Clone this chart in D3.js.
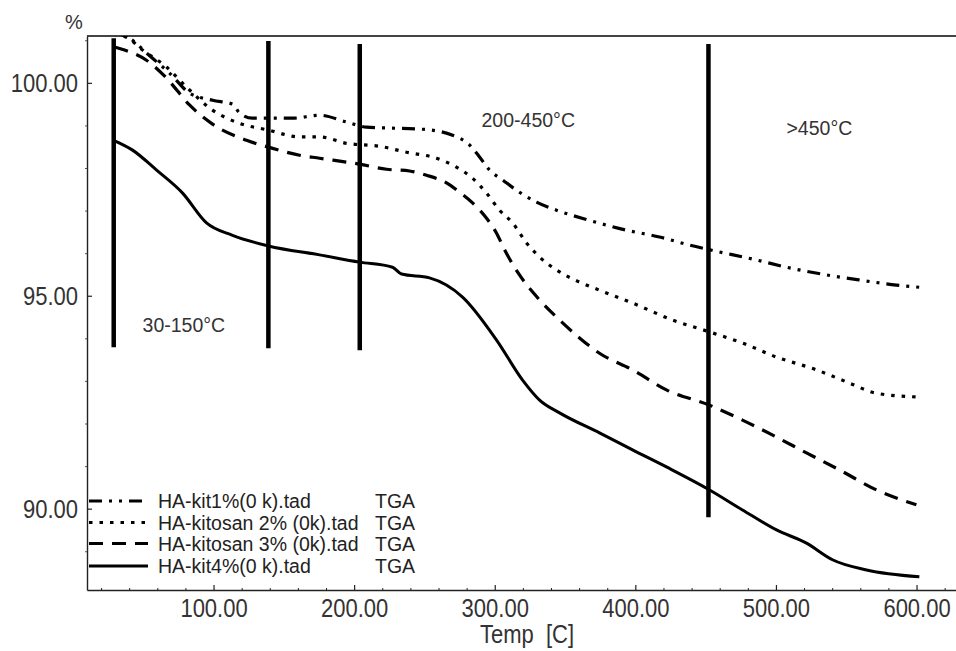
<!DOCTYPE html>
<html>
<head>
<meta charset="utf-8">
<script src="https://cdn.jsdelivr.net/npm/d3@7"></script>
<style>
  html, body { margin: 0; padding: 0; background: #fff; }
  svg { display: block; }
</style>
</head>
<body>
<svg id="chart" width="956" height="651"></svg>
<script>
// ---------------- DATA ----------------
const seriesNames = [
  "HA-kit1%(0 k).tad",
  "HA-kitosan 2% (0k).tad",
  "HA-kitosan 3% (0k).tad",
  "HA-kit4%(0 k).tad"
];
const seriesTag = ["TGA", "TGA", "TGA", "TGA"];

// [temperature °C, mass %]
const kit1 = [
  [28.9,101.19],[42.4,101.00],[52.3,100.70],[68.7,100.23],[82.9,99.76],[99.3,99.59],
  [113.5,99.50],[118.5,99.29],[127.7,99.17],[139.1,99.17],[156.2,99.17],[175.4,99.24],
  [194.6,99.08],[208.8,98.96],[223.1,98.94],[248.6,98.91],[270.0,98.77],[282.1,98.54],
  [289.2,98.26],[296.3,97.95],[305.6,97.72],[317.6,97.43],[329.7,97.20],[343.9,97.01],
  [367.4,96.77],[393.7,96.54],[417.2,96.38],[438.5,96.19],[452.8,96.08],[486.2,95.84],
  [507.5,95.67],[535.9,95.49],[559.4,95.37],[585.7,95.25],[602.0,95.20]
];
const kitosan2 = [
  [28.9,101.14],[38.1,101.07],[49.5,100.77],[66.6,100.37],[80.8,99.90],[99.3,99.36],
  [118.5,99.05],[139.1,98.89],[161.2,98.73],[175.4,98.73],[194.6,98.58],[218.1,98.51],
  [237.3,98.37],[258.6,98.23],[272.8,98.02],[284.2,97.76],[294.2,97.41],[303.4,97.01],
  [312.7,96.71],[322.6,96.24],[331.9,95.91],[346.1,95.56],[360.3,95.32],[374.5,95.13],
  [398.0,94.83],[426.5,94.43],[452.8,94.15],[476.2,93.89],[500.4,93.56],[528.8,93.26],
  [552.3,92.95],[571.5,92.71],[602.0,92.62]
];
const kitosan3 = [
  [29.6,100.84],[36.7,100.77],[52.3,100.53],[66.6,100.11],[82.9,99.48],[99.3,99.03],
  [123.5,98.65],[139.1,98.49],[161.2,98.30],[175.4,98.23],[203.8,98.09],[223.1,97.97],
  [239.4,97.93],[251.5,97.83],[265.7,97.65],[275.0,97.43],[284.2,97.18],[294.2,96.82],
  [301.3,96.47],[307.0,96.08],[317.6,95.49],[331.9,94.90],[346.1,94.43],[360.3,94.01],
  [374.5,93.65],[398.0,93.26],[422.1,92.79],[452.8,92.43],[476.2,92.08],[500.4,91.68],
  [521.7,91.31],[545.2,90.91],[571.5,90.44],[599.9,90.09]
];
const kit4 = [
  [28.9,98.65],[42.4,98.42],[59.5,97.95],[78.0,97.41],[95.0,96.71],[113.5,96.42],
  [139.1,96.17],[175.4,95.96],[203.8,95.79],[227.3,95.67],[233.7,95.51],[253.6,95.42],
  [277.1,94.97],[301.3,93.96],[319.8,93.02],[331.9,92.55],[346.1,92.25],[374.5,91.78],
  [398.0,91.38],[422.1,90.98],[452.8,90.44],[476.2,89.97],[500.4,89.50],[521.7,89.19],
  [540.2,88.80],[564.4,88.56],[602.0,88.40]
];
const seriesData = [kit1, kitosan2, kitosan3, kit4];

// region divider lines: temperature, top %, bottom %
const dividerTemps = [29, 139, 204, 452];
const dividerTops = [101.05, 100.98, 100.91, 100.91];
const dividerBottoms = [93.79, 93.77, 93.72, 89.80];

// region labels: text, temperature, mass (baseline)
const regionText = ["30-150°C", "200-450°C", ">450°C"];
const regionT = [49.5, 290.6, 507.5];
const regionW = [94.15, 98.96, 98.77];

// axis ticks
const xMajorTicks = [100, 200, 300, 400, 500, 600];
const xMinorTicks = d3.range(20, 640, 20).filter(v => v % 100 !== 0);
const yMajorTicks = [90, 95, 100];
const yMinorTicks = [89, 91, 92, 93, 94, 96, 97, 98, 99, 101];

// ---------------- LAYOUT ----------------
const svg = d3.select("#chart");
const mLeft = 87, mTop = 36, mBottom = 590;
const xDomain = [10, 630];
const yDomain = [88.09, 101.10];
const x = d3.scaleLinear().domain(xDomain).range([mLeft, mLeft + (xDomain[1] - xDomain[0]) * 1.406]);
const y = d3.scaleLinear().domain(yDomain).range([mBottom, mTop]);

const textColor = "#333";
const axisFont = "'Liberation Sans', Arial, sans-serif";
const styles = [
  { dash: "13,7,3,7,3,7", width: 3.2 },
  { dash: "3.5,7", width: 3.2 },
  { dash: "14,9", width: 3.2 },
  { dash: null, width: 3 }
];

svg.append("defs").append("clipPath").attr("id", "plotClip")
  .append("rect").attr("x", mLeft).attr("y", mTop).attr("width", 956 - mLeft).attr("height", mBottom - mTop);

// top border
svg.append("line")
  .attr("x1", mLeft).attr("x2", 956).attr("y1", y(yDomain[1])).attr("y2", y(yDomain[1]))
  .attr("stroke", "#444").attr("stroke-width", 2);

// X axis
const gx = svg.append("g").attr("transform", `translate(0,${mBottom})`);
gx.call(d3.axisBottom(x).tickValues(xMinorTicks).tickSize(-2).tickSizeOuter(0).tickFormat(""));
gx.selectAll("line").attr("stroke", "#222");
gx.select(".domain").attr("stroke", "#222").attr("stroke-width", 1.6);
const gxM = svg.append("g").attr("transform", `translate(0,${mBottom})`);
gxM.call(d3.axisBottom(x).tickValues(xMajorTicks).tickSize(-5).tickSizeOuter(0).tickPadding(14)
  .tickFormat(d3.format(".2f")));
gxM.select(".domain").remove();
gxM.selectAll("line").attr("stroke", "#222").attr("stroke-width", 1.2);
gxM.selectAll("text")
  .attr("y", 27).attr("dy", 0)
  .attr("transform", "scale(0.88,1)")
  .style("font-family", axisFont).style("font-size", "25px").attr("fill", textColor);

// Y axis
const gy = svg.append("g").attr("transform", `translate(${mLeft},0)`);
gy.call(d3.axisLeft(y).tickValues(yMinorTicks).tickSize(2).tickSizeOuter(0).tickFormat(""));
gy.selectAll("line").attr("stroke", "#555");
gy.select(".domain").attr("stroke", "#222").attr("stroke-width", 1.4);
const gyM = svg.append("g").attr("transform", `translate(${mLeft},0)`);
gyM.call(d3.axisLeft(y).tickValues(yMajorTicks).tickSize(-5).tickSizeOuter(0).tickPadding(9)
  .tickFormat(d3.format(".2f")));
gyM.select(".domain").remove();
gyM.selectAll("line").attr("stroke", "#222").attr("stroke-width", 1.2);
gyM.selectAll("text")
  .attr("x", -9 / 0.88).attr("dy", "0.36em")
  .attr("transform", "scale(0.88,1)")
  .style("font-family", axisFont).style("font-size", "25px").attr("fill", textColor);

// axis titles
svg.append("text").attr("x", 65).attr("y", 29).text("%")
  .style("font-family", axisFont).style("font-size", "20px").attr("fill", textColor);
svg.append("text")
  .attr("transform", `translate(${527},643) scale(0.88,1)`)
  .attr("text-anchor", "middle")
  .style("font-family", axisFont).style("font-size", "25px").attr("fill", textColor)
  .style("white-space", "pre").text("Temp  [C]");

// curves
const line = d3.line().curve(d3.curveMonotoneX).x(d => x(d[0])).y(d => y(d[1]));
const plot = svg.append("g").attr("clip-path", "url(#plotClip)");
seriesData.forEach((data, i) => {
  plot.append("path").datum(data)
    .attr("d", line)
    .attr("fill", "none")
    .attr("stroke", "#000")
    .attr("stroke-width", styles[i].width)
    .attr("stroke-dasharray", styles[i].dash)
    .attr("stroke-linejoin", "round");
});

// divider lines
dividerTemps.forEach((t, i) => {
  svg.append("line")
    .attr("x1", x(t)).attr("x2", x(t))
    .attr("y1", y(dividerTops[i])).attr("y2", y(dividerBottoms[i]))
    .attr("stroke", "#000").attr("stroke-width", 4.5);
});

// region labels
regionText.forEach((t, i) => {
  svg.append("text").attr("x", x(regionT[i])).attr("y", y(regionW[i])).text(t)
    .style("font-family", axisFont).style("font-size", "19.5px").attr("fill", textColor);
});

// legend
const legendRowY = [501, 522.5, 543.5, 566];
seriesNames.forEach((name, i) => {
  const ly = legendRowY[i];
  svg.append("line")
    .attr("x1", 89).attr("x2", 148).attr("y1", ly).attr("y2", ly)
    .attr("stroke", "#000")
    .attr("stroke-width", styles[i].width)
    .attr("stroke-dasharray", styles[i].dash);
  svg.append("text").attr("x", 158).attr("y", ly + 7).text(name)
    .style("font-family", axisFont).style("font-size", "19.5px").attr("fill", "#222");
  svg.append("text").attr("x", 375).attr("y", ly + 7).text(seriesTag[i])
    .style("font-family", axisFont).style("font-size", "19.5px").attr("fill", "#222");
});
</script>
</body>
</html>
